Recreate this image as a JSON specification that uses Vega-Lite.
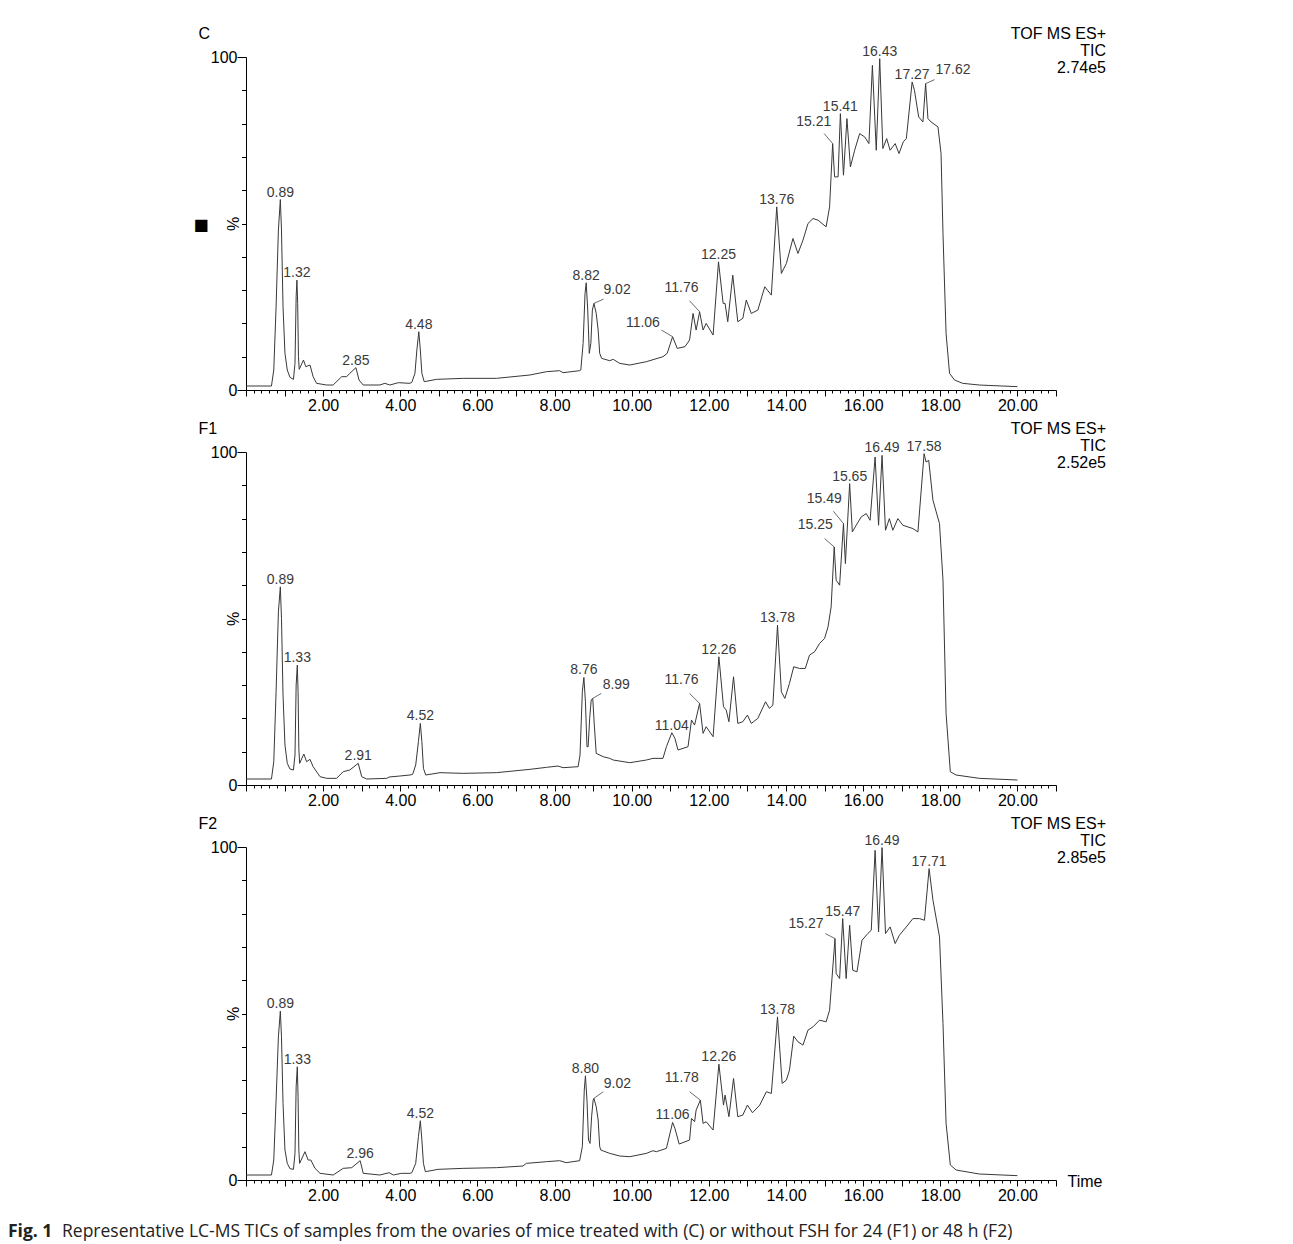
{
  "$schema": "https://vega.github.io/schema/vega-lite/v6.json",
  "padding": {"top": 25, "left": 8, "right": 5, "bottom": 0},
  "bounds": "flush",
  "spacing": 62,
  "title": {
    "text": "Representative LC-MS TICs of samples from the ovaries of mice treated with (C) or without FSH for 24 (F1) or 48 h (F2)",
    "orient": "bottom",
    "anchor": "start",
    "frame": "group",
    "dx": -184,
    "offset": -17.5,
    "font": "Open Sans",
    "fontSize": 17.5,
    "fontWeight": "normal",
    "color": "#222222"
  },
  "datasets": {
    "C": [
      {"t":0,"y":1.2},{"t":0.66,"y":1.2},{"t":0.72,"y":6},{"t":0.78,"y":25},{"t":0.84,"y":48},{"t":0.89,"y":57.2},{"t":0.92,"y":48},{"t":0.96,"y":25},{"t":1.01,"y":11},{"t":1.07,"y":6},{"t":1.14,"y":3.8},{"t":1.23,"y":3.2},{"t":1.27,"y":8},{"t":1.3,"y":28},{"t":1.32,"y":33},{"t":1.34,"y":26},{"t":1.36,"y":10},{"t":1.38,"y":6.2},{"t":1.49,"y":9},{"t":1.55,"y":7},{"t":1.66,"y":7.5},{"t":1.74,"y":4},{"t":1.83,"y":2},{"t":2.09,"y":1.5},{"t":2.26,"y":1.5},{"t":2.48,"y":4},{"t":2.61,"y":4},{"t":2.69,"y":5},{"t":2.85,"y":6.7},{"t":2.93,"y":3},{"t":3.04,"y":1.5},{"t":3.47,"y":1.5},{"t":3.6,"y":2},{"t":3.73,"y":1.5},{"t":3.95,"y":2.2},{"t":4.25,"y":2},{"t":4.3,"y":2.3},{"t":4.38,"y":5},{"t":4.43,"y":12},{"t":4.48,"y":17.5},{"t":4.52,"y":12},{"t":4.56,"y":5},{"t":4.62,"y":2.5},{"t":4.94,"y":3.2},{"t":5.63,"y":3.5},{"t":6.49,"y":3.5},{"t":7.36,"y":4.5},{"t":7.79,"y":5.5},{"t":8.13,"y":5.8},{"t":8.22,"y":5.2},{"t":8.65,"y":5.8},{"t":8.68,"y":6},{"t":8.74,"y":14},{"t":8.79,"y":29},{"t":8.82,"y":32.2},{"t":8.86,"y":24},{"t":8.9,"y":11},{"t":8.94,"y":14},{"t":8.98,"y":24},{"t":9.02,"y":26},{"t":9.08,"y":23},{"t":9.13,"y":18},{"t":9.17,"y":11},{"t":9.22,"y":9.5},{"t":9.43,"y":8.8},{"t":9.52,"y":9.2},{"t":9.69,"y":8},{"t":9.95,"y":7.5},{"t":10.38,"y":8.5},{"t":10.81,"y":10},{"t":10.92,"y":11},{"t":11.06,"y":16},{"t":11.18,"y":12.5},{"t":11.38,"y":13},{"t":11.5,"y":15},{"t":11.59,"y":23},{"t":11.67,"y":18},{"t":11.76,"y":23.5},{"t":11.85,"y":18},{"t":11.93,"y":20},{"t":12.11,"y":16.5},{"t":12.25,"y":38.5},{"t":12.37,"y":26},{"t":12.42,"y":26},{"t":12.49,"y":20.5},{"t":12.62,"y":34.5},{"t":12.75,"y":20.5},{"t":12.88,"y":21.5},{"t":12.97,"y":27},{"t":13.1,"y":23},{"t":13.27,"y":24},{"t":13.45,"y":31},{"t":13.62,"y":28.5},{"t":13.76,"y":55},{"t":13.88,"y":35},{"t":14.01,"y":38},{"t":14.18,"y":45.5},{"t":14.31,"y":41},{"t":14.44,"y":45},{"t":14.57,"y":50},{"t":14.7,"y":51.5},{"t":14.83,"y":51},{"t":15.04,"y":49},{"t":15.13,"y":55},{"t":15.21,"y":74},{"t":15.26,"y":64},{"t":15.35,"y":64},{"t":15.41,"y":83},{"t":15.49,"y":64.5},{"t":15.58,"y":81.5},{"t":15.67,"y":67},{"t":15.78,"y":72},{"t":15.91,"y":77},{"t":16.04,"y":76},{"t":16.15,"y":74},{"t":16.24,"y":97.5},{"t":16.34,"y":72},{"t":16.43,"y":99.5},{"t":16.51,"y":72.5},{"t":16.61,"y":75.5},{"t":16.7,"y":72},{"t":16.83,"y":74},{"t":16.93,"y":71},{"t":17.04,"y":74.5},{"t":17.12,"y":75.5},{"t":17.27,"y":92.5},{"t":17.33,"y":90},{"t":17.44,"y":82},{"t":17.55,"y":80.5},{"t":17.62,"y":92},{"t":17.68,"y":81.5},{"t":17.76,"y":80.5},{"t":17.94,"y":79},{"t":18.02,"y":71},{"t":18.07,"y":47},{"t":18.15,"y":17},{"t":18.24,"y":5},{"t":18.37,"y":3},{"t":18.58,"y":2},{"t":19.01,"y":1.5},{"t":20,"y":1}
    ],
    "F1": [
      {"t":0,"y":1.8},{"t":0.66,"y":1.8},{"t":0.72,"y":7},{"t":0.78,"y":28},{"t":0.84,"y":52},{"t":0.89,"y":59.5},{"t":0.92,"y":50},{"t":0.96,"y":27},{"t":1.01,"y":12},{"t":1.07,"y":6.5},{"t":1.14,"y":4.8},{"t":1.23,"y":4.5},{"t":1.27,"y":9},{"t":1.3,"y":30},{"t":1.33,"y":36},{"t":1.35,"y":28},{"t":1.37,"y":11},{"t":1.39,"y":6.5},{"t":1.5,"y":9.3},{"t":1.57,"y":7},{"t":1.66,"y":7.7},{"t":1.74,"y":5.5},{"t":1.92,"y":2.5},{"t":2.09,"y":2},{"t":2.35,"y":2},{"t":2.52,"y":4},{"t":2.69,"y":4.5},{"t":2.91,"y":6.5},{"t":3.0,"y":2.5},{"t":3.13,"y":1.8},{"t":3.65,"y":2},{"t":3.71,"y":2.4},{"t":3.99,"y":2.7},{"t":4.25,"y":3},{"t":4.32,"y":3.2},{"t":4.4,"y":6},{"t":4.47,"y":13},{"t":4.52,"y":18.5},{"t":4.56,"y":13},{"t":4.6,"y":5},{"t":4.66,"y":3},{"t":5.03,"y":3.7},{"t":5.63,"y":3.5},{"t":6.49,"y":3.7},{"t":7.36,"y":4.7},{"t":7.79,"y":5.3},{"t":8.09,"y":5.7},{"t":8.22,"y":5.2},{"t":8.61,"y":5.5},{"t":8.66,"y":9},{"t":8.72,"y":28},{"t":8.76,"y":32.3},{"t":8.8,"y":25},{"t":8.84,"y":11.5},{"t":8.87,"y":11.5},{"t":8.91,"y":20},{"t":8.95,"y":25.5},{"t":8.99,"y":26},{"t":9.03,"y":18},{"t":9.08,"y":9.5},{"t":9.26,"y":8.5},{"t":9.43,"y":8},{"t":9.52,"y":7.5},{"t":9.95,"y":6.7},{"t":10.38,"y":7.5},{"t":10.55,"y":8},{"t":10.81,"y":8},{"t":10.9,"y":11.5},{"t":11.04,"y":15.7},{"t":11.12,"y":14},{"t":11.2,"y":10.5},{"t":11.46,"y":11.5},{"t":11.55,"y":19.5},{"t":11.63,"y":18},{"t":11.76,"y":24.5},{"t":11.85,"y":15.5},{"t":11.93,"y":17.5},{"t":12.11,"y":14.5},{"t":12.26,"y":38.5},{"t":12.38,"y":23.5},{"t":12.45,"y":22.5},{"t":12.52,"y":19},{"t":12.64,"y":32.5},{"t":12.75,"y":18.5},{"t":12.88,"y":19},{"t":13.0,"y":21},{"t":13.1,"y":18.5},{"t":13.27,"y":20},{"t":13.47,"y":25},{"t":13.57,"y":23},{"t":13.66,"y":24},{"t":13.78,"y":48},{"t":13.88,"y":28},{"t":13.97,"y":26},{"t":14.09,"y":30.5},{"t":14.2,"y":35.5},{"t":14.35,"y":35},{"t":14.5,"y":35},{"t":14.61,"y":39},{"t":14.74,"y":40},{"t":14.87,"y":42.5},{"t":15.0,"y":44},{"t":15.09,"y":47.5},{"t":15.17,"y":53.5},{"t":15.25,"y":71.5},{"t":15.3,"y":61.5},{"t":15.39,"y":60},{"t":15.49,"y":78.5},{"t":15.54,"y":66.5},{"t":15.65,"y":90.5},{"t":15.72,"y":76},{"t":15.82,"y":78},{"t":15.95,"y":80.5},{"t":16.08,"y":81.5},{"t":16.18,"y":79.5},{"t":16.31,"y":98.5},{"t":16.4,"y":78},{"t":16.49,"y":99},{"t":16.58,"y":76.5},{"t":16.68,"y":80},{"t":16.77,"y":76.5},{"t":16.9,"y":80},{"t":17.03,"y":78},{"t":17.29,"y":77},{"t":17.42,"y":76},{"t":17.58,"y":99.5},{"t":17.63,"y":97},{"t":17.7,"y":97.5},{"t":17.81,"y":85.5},{"t":17.98,"y":78.5},{"t":18.07,"y":61.5},{"t":18.15,"y":21.5},{"t":18.26,"y":4},{"t":18.41,"y":3},{"t":19.01,"y":2},{"t":20,"y":1.5}
    ],
    "F2": [
      {"t":0,"y":1.5},{"t":0.66,"y":1.5},{"t":0.72,"y":6},{"t":0.78,"y":24},{"t":0.84,"y":43},{"t":0.89,"y":50.7},{"t":0.92,"y":43},{"t":0.96,"y":23},{"t":1.01,"y":9},{"t":1.07,"y":5},{"t":1.14,"y":3.4},{"t":1.23,"y":3.2},{"t":1.27,"y":8},{"t":1.3,"y":28},{"t":1.33,"y":34},{"t":1.35,"y":25},{"t":1.37,"y":9},{"t":1.39,"y":5},{"t":1.53,"y":8.5},{"t":1.61,"y":6},{"t":1.68,"y":6},{"t":1.79,"y":3.5},{"t":1.92,"y":2},{"t":2.26,"y":1.5},{"t":2.52,"y":3.5},{"t":2.74,"y":3.7},{"t":2.96,"y":5.8},{"t":3.04,"y":2},{"t":3.47,"y":1.5},{"t":3.71,"y":2.2},{"t":3.82,"y":1.5},{"t":4.03,"y":2},{"t":4.25,"y":2},{"t":4.3,"y":2.2},{"t":4.4,"y":5},{"t":4.47,"y":13},{"t":4.52,"y":17.8},{"t":4.56,"y":12},{"t":4.6,"y":5},{"t":4.65,"y":2.5},{"t":4.98,"y":3.2},{"t":5.63,"y":3.5},{"t":6.49,"y":3.7},{"t":7.18,"y":4.2},{"t":7.27,"y":5},{"t":7.79,"y":5.5},{"t":8.13,"y":5.8},{"t":8.3,"y":5.2},{"t":8.65,"y":5.8},{"t":8.72,"y":10},{"t":8.77,"y":27},{"t":8.8,"y":31.3},{"t":8.84,"y":24},{"t":8.88,"y":12},{"t":8.92,"y":11},{"t":8.96,"y":19},{"t":9.0,"y":24},{"t":9.02,"y":24.5},{"t":9.08,"y":22},{"t":9.13,"y":18},{"t":9.17,"y":10},{"t":9.2,"y":9},{"t":9.43,"y":8},{"t":9.69,"y":7.2},{"t":9.95,"y":7},{"t":10.38,"y":8},{"t":10.55,"y":8.8},{"t":10.64,"y":8.5},{"t":10.9,"y":9.5},{"t":11.06,"y":17.3},{"t":11.12,"y":15.5},{"t":11.23,"y":10.8},{"t":11.5,"y":12},{"t":11.55,"y":18.5},{"t":11.63,"y":17.5},{"t":11.67,"y":21},{"t":11.78,"y":24},{"t":11.85,"y":17},{"t":11.93,"y":17.5},{"t":12.11,"y":15},{"t":12.26,"y":34.8},{"t":12.38,"y":22.5},{"t":12.42,"y":25.5},{"t":12.52,"y":19},{"t":12.64,"y":30.5},{"t":12.75,"y":19},{"t":12.88,"y":19.5},{"t":13.0,"y":22.5},{"t":13.13,"y":20.2},{"t":13.32,"y":22.5},{"t":13.49,"y":26.5},{"t":13.62,"y":26},{"t":13.78,"y":49},{"t":13.9,"y":29},{"t":14.01,"y":30},{"t":14.09,"y":33},{"t":14.2,"y":43.2},{"t":14.31,"y":41.5},{"t":14.44,"y":40.5},{"t":14.57,"y":45},{"t":14.7,"y":46},{"t":14.87,"y":48},{"t":15.04,"y":47.5},{"t":15.13,"y":51},{"t":15.27,"y":72.5},{"t":15.3,"y":62},{"t":15.39,"y":60.5},{"t":15.47,"y":78.5},{"t":15.56,"y":60.5},{"t":15.65,"y":76.5},{"t":15.73,"y":63},{"t":15.84,"y":62.5},{"t":15.97,"y":72},{"t":16.12,"y":74},{"t":16.21,"y":75},{"t":16.31,"y":99},{"t":16.4,"y":74.5},{"t":16.49,"y":99.8},{"t":16.58,"y":74},{"t":16.7,"y":76},{"t":16.83,"y":71},{"t":16.94,"y":73.5},{"t":17.12,"y":76},{"t":17.29,"y":78.5},{"t":17.46,"y":78.5},{"t":17.59,"y":78},{"t":17.71,"y":93.5},{"t":17.81,"y":84},{"t":17.98,"y":73},{"t":18.07,"y":47},{"t":18.15,"y":17},{"t":18.26,"y":4.5},{"t":18.41,"y":3},{"t":19.01,"y":1.8},{"t":20,"y":1.3}
    ],
    "labels": [
      {"panel":"C","label":"0.89","lx":0.89,"ly":57.2},
      {"panel":"C","label":"1.32","lx":1.32,"ly":33},
      {"panel":"C","label":"2.85","lx":2.85,"ly":6.7},
      {"panel":"C","label":"4.48","lx":4.48,"ly":17.5},
      {"panel":"C","label":"8.82","lx":8.82,"ly":32.2},
      {"panel":"C","label":"9.02","lx":9.62,"ly":27.9},
      {"panel":"C","label":"11.06","lx":10.29,"ly":18},
      {"panel":"C","label":"11.76","lx":11.29,"ly":28.4},
      {"panel":"C","label":"12.25","lx":12.25,"ly":38.5},
      {"panel":"C","label":"13.76","lx":13.76,"ly":55},
      {"panel":"C","label":"15.21","lx":14.72,"ly":78.4},
      {"panel":"C","label":"15.41","lx":15.41,"ly":83},
      {"panel":"C","label":"16.43","lx":16.43,"ly":99.5},
      {"panel":"C","label":"17.27","lx":17.27,"ly":92.5},
      {"panel":"C","label":"17.62","lx":18.33,"ly":93.9},
      {"panel":"F1","label":"0.89","lx":0.89,"ly":59.5},
      {"panel":"F1","label":"1.33","lx":1.33,"ly":36},
      {"panel":"F1","label":"2.91","lx":2.91,"ly":6.5},
      {"panel":"F1","label":"4.52","lx":4.52,"ly":18.5},
      {"panel":"F1","label":"8.76","lx":8.76,"ly":32.3},
      {"panel":"F1","label":"8.99","lx":9.6,"ly":27.9},
      {"panel":"F1","label":"11.04","lx":11.04,"ly":15.7},
      {"panel":"F1","label":"11.76","lx":11.29,"ly":29.4},
      {"panel":"F1","label":"12.26","lx":12.26,"ly":38.5},
      {"panel":"F1","label":"13.78","lx":13.78,"ly":48},
      {"panel":"F1","label":"15.25","lx":14.76,"ly":75.9},
      {"panel":"F1","label":"15.49","lx":14.99,"ly":83.9},
      {"panel":"F1","label":"15.65","lx":15.65,"ly":90.5},
      {"panel":"F1","label":"16.49","lx":16.49,"ly":99},
      {"panel":"F1","label":"17.58","lx":17.58,"ly":99.5},
      {"panel":"F2","label":"0.89","lx":0.89,"ly":50.7},
      {"panel":"F2","label":"1.33","lx":1.33,"ly":34},
      {"panel":"F2","label":"2.96","lx":2.96,"ly":5.8},
      {"panel":"F2","label":"4.52","lx":4.52,"ly":17.8},
      {"panel":"F2","label":"8.80","lx":8.8,"ly":31.3},
      {"panel":"F2","label":"9.02","lx":9.63,"ly":26.7},
      {"panel":"F2","label":"11.06","lx":11.06,"ly":17.3},
      {"panel":"F2","label":"11.78","lx":11.3,"ly":28.4},
      {"panel":"F2","label":"12.26","lx":12.26,"ly":34.8},
      {"panel":"F2","label":"13.78","lx":13.78,"ly":49},
      {"panel":"F2","label":"15.27","lx":14.52,"ly":74.7},
      {"panel":"F2","label":"15.47","lx":15.47,"ly":78.5},
      {"panel":"F2","label":"16.49","lx":16.49,"ly":99.8},
      {"panel":"F2","label":"17.71","lx":17.71,"ly":93.5}
    ],
    "leaders": [
      {"panel":"C","pt":9.02,"py":26,"ex":9.27,"ey":27.3},
      {"panel":"C","pt":11.06,"py":16,"ex":10.77,"ey":18},
      {"panel":"C","pt":11.76,"py":23.5,"ex":11.5,"ey":26.8},
      {"panel":"C","pt":15.21,"py":74,"ex":14.99,"ey":77},
      {"panel":"C","pt":17.62,"py":92,"ex":17.85,"ey":93.2},
      {"panel":"F1","pt":8.99,"py":26,"ex":9.21,"ey":27.5},
      {"panel":"F1","pt":11.76,"py":24.5,"ex":11.5,"ey":27.5},
      {"panel":"F1","pt":15.25,"py":71.5,"ex":15.0,"ey":74},
      {"panel":"F1","pt":15.49,"py":78.5,"ex":15.23,"ey":82.2},
      {"panel":"F2","pt":9.02,"py":24.5,"ex":9.26,"ey":26.5},
      {"panel":"F2","pt":11.78,"py":24,"ex":11.5,"ey":26.5},
      {"panel":"F2","pt":15.27,"py":72.5,"ex":15.02,"ey":74}
    ]
  },
  "vconcat": [
    {
      "width": 810, "height": 333,
      "layer": [
        {
          "data": {"name": "C"},
          "mark": {"type": "line", "stroke": "#383838", "strokeWidth": 1},
          "encoding": {
            "x": {"field": "t", "type": "quantitative", "scale": {"domain": [0, 21], "nice": false, "zero": false},
              "axis": {"orient": "bottom", "title": null, "values": [0,0.2,0.4,0.6,0.8,1,1.2,1.4,1.6,1.8,2,2.2,2.4,2.6,2.8,3,3.2,3.4,3.6,3.8,4,4.2,4.4,4.6,4.8,5,5.2,5.4,5.6,5.8,6,6.2,6.4,6.6,6.8,7,7.2,7.4,7.6,7.8,8,8.2,8.4,8.6,8.8,9,9.2,9.4,9.6,9.8,10,10.2,10.4,10.6,10.8,11,11.2,11.4,11.6,11.8,12,12.2,12.4,12.6,12.8,13,13.2,13.4,13.6,13.8,14,14.2,14.4,14.6,14.8,15,15.2,15.4,15.6,15.8,16,16.2,16.4,16.6,16.8,17,17.2,17.4,17.6,17.8,18,18.2,18.4,18.6,18.8,19,19.2,19.4,19.6,19.8,20,20.2,20.4,20.6,20.8,21],
                "tickSize": {"condition": {"test": "abs(datum.value - round(datum.value)) < 0.01", "value": 6}, "value": 3},
                "labelExpr": "datum.value > 1.5 && abs(datum.value / 2 - round(datum.value / 2)) < 0.01 ? format(datum.value, '.2f') : ''",
                "labelPadding": 1, "labelBaseline": "top", "labelAlign": "center"}},
            "y": {"field": "y", "type": "quantitative", "scale": {"domain": [0, 100], "nice": false, "zero": false},
              "axis": {"orient": "left", "values": [0,10,20,30,40,50,60,70,80,90,100],
                "tickSize": {"condition": {"test": "datum.value == 0 || datum.value == 100", "value": 9}, "value": 4.5},
                "labelPadding": 0,
                "labelExpr": "datum.value == 50 ? '%' : (datum.value == 0 || datum.value == 100 ? datum.label : '')",
                "labelAngle": {"expr": "datum.value == 50 ? -90 : 0"},
                "labelAlign": {"condition": {"test": "datum.value == 50", "value": "center"}, "value": "right"},
                "labelBaseline": {"condition": {"test": "datum.value == 50", "value": "bottom"}, "value": "middle"},
                "title": "\u25a0", "titleFont": "DejaVu Sans", "titleFontSize": 16, "titleAngle": 0, "titleX": -38, "titleY": 167, "titleAlign": "right", "titleBaseline": "middle"}}
          }
        },
        {
          "data": {"name": "labels"},
          "transform": [{"filter": "datum.panel == 'C'"}],
          "mark": {"type": "text", "font": "Liberation Sans", "fontSize": 14, "fill": "#3a3a3a", "baseline": "alphabetic", "align": "center", "dy": -3},
          "encoding": {
            "x": {"field": "lx", "type": "quantitative", "scale": {"domain": [0, 21], "nice": false, "zero": false},
              "axis": {"orient": "top", "domain": false, "ticks": false, "labels": false, "title": ["TOF MS ES+", "TIC", "2.74e5"], "titleX": 859.5, "titleY": -19, "titleAlign": "right", "titleBaseline": "alphabetic", "titleAngle": 0, "titleLineHeight": 17}},
            "y": {"field": "ly", "type": "quantitative", "scale": {"domain": [0, 100], "nice": false, "zero": false},
              "axis": {"orient": "left", "domain": false, "ticks": false, "labels": false, "title": "C", "titleX": -48, "titleY": -19, "titleAlign": "left", "titleBaseline": "alphabetic", "titleAngle": 0}},
            "text": {"field": "label", "type": "nominal"}
          }
        },
        {
          "data": {"name": "leaders"},
          "transform": [{"filter": "datum.panel == 'C'"}],
          "mark": {"type": "rule", "stroke": "#444444", "strokeWidth": 0.8},
          "encoding": {
            "x": {"field": "pt", "type": "quantitative", "scale": {"domain": [0, 21], "nice": false, "zero": false}, "axis": null},
            "y": {"field": "py", "type": "quantitative", "scale": {"domain": [0, 100], "nice": false, "zero": false}, "axis": null},
            "x2": {"field": "ex"},
            "y2": {"field": "ey"}
          }
        }
      ],
      "resolve": {"axis": {"x": "independent", "y": "independent"}}
    },
    {
      "width": 810, "height": 333,
      "layer": [
        {
          "data": {"name": "F1"},
          "mark": {"type": "line", "stroke": "#383838", "strokeWidth": 1},
          "encoding": {
            "x": {"field": "t", "type": "quantitative", "scale": {"domain": [0, 21], "nice": false, "zero": false},
              "axis": {"orient": "bottom", "title": null, "values": [0,0.2,0.4,0.6,0.8,1,1.2,1.4,1.6,1.8,2,2.2,2.4,2.6,2.8,3,3.2,3.4,3.6,3.8,4,4.2,4.4,4.6,4.8,5,5.2,5.4,5.6,5.8,6,6.2,6.4,6.6,6.8,7,7.2,7.4,7.6,7.8,8,8.2,8.4,8.6,8.8,9,9.2,9.4,9.6,9.8,10,10.2,10.4,10.6,10.8,11,11.2,11.4,11.6,11.8,12,12.2,12.4,12.6,12.8,13,13.2,13.4,13.6,13.8,14,14.2,14.4,14.6,14.8,15,15.2,15.4,15.6,15.8,16,16.2,16.4,16.6,16.8,17,17.2,17.4,17.6,17.8,18,18.2,18.4,18.6,18.8,19,19.2,19.4,19.6,19.8,20,20.2,20.4,20.6,20.8,21],
                "tickSize": {"condition": {"test": "abs(datum.value - round(datum.value)) < 0.01", "value": 6}, "value": 3},
                "labelExpr": "datum.value > 1.5 && abs(datum.value / 2 - round(datum.value / 2)) < 0.01 ? format(datum.value, '.2f') : ''",
                "labelPadding": 1, "labelBaseline": "top", "labelAlign": "center"}},
            "y": {"field": "y", "type": "quantitative", "scale": {"domain": [0, 100], "nice": false, "zero": false},
              "axis": {"orient": "left", "values": [0,10,20,30,40,50,60,70,80,90,100],
                "tickSize": {"condition": {"test": "datum.value == 0 || datum.value == 100", "value": 9}, "value": 4.5},
                "labelPadding": 0,
                "labelExpr": "datum.value == 50 ? '%' : (datum.value == 0 || datum.value == 100 ? datum.label : '')",
                "labelAngle": {"expr": "datum.value == 50 ? -90 : 0"},
                "labelAlign": {"condition": {"test": "datum.value == 50", "value": "center"}, "value": "right"},
                "labelBaseline": {"condition": {"test": "datum.value == 50", "value": "bottom"}, "value": "middle"},
                "title": null}}
          }
        },
        {
          "data": {"name": "labels"},
          "transform": [{"filter": "datum.panel == 'F1'"}],
          "mark": {"type": "text", "font": "Liberation Sans", "fontSize": 14, "fill": "#3a3a3a", "baseline": "alphabetic", "align": "center", "dy": -3},
          "encoding": {
            "x": {"field": "lx", "type": "quantitative", "scale": {"domain": [0, 21], "nice": false, "zero": false},
              "axis": {"orient": "top", "domain": false, "ticks": false, "labels": false, "title": ["TOF MS ES+", "TIC", "2.52e5"], "titleX": 859.5, "titleY": -19, "titleAlign": "right", "titleBaseline": "alphabetic", "titleAngle": 0, "titleLineHeight": 17}},
            "y": {"field": "ly", "type": "quantitative", "scale": {"domain": [0, 100], "nice": false, "zero": false},
              "axis": {"orient": "left", "domain": false, "ticks": false, "labels": false, "title": "F1", "titleX": -48, "titleY": -19, "titleAlign": "left", "titleBaseline": "alphabetic", "titleAngle": 0}},
            "text": {"field": "label", "type": "nominal"}
          }
        },
        {
          "data": {"name": "leaders"},
          "transform": [{"filter": "datum.panel == 'F1'"}],
          "mark": {"type": "rule", "stroke": "#444444", "strokeWidth": 0.8},
          "encoding": {
            "x": {"field": "pt", "type": "quantitative", "scale": {"domain": [0, 21], "nice": false, "zero": false}, "axis": null},
            "y": {"field": "py", "type": "quantitative", "scale": {"domain": [0, 100], "nice": false, "zero": false}, "axis": null},
            "x2": {"field": "ex"},
            "y2": {"field": "ey"}
          }
        }
      ],
      "resolve": {"axis": {"x": "independent", "y": "independent"}}
    },
    {
      "width": 810, "height": 333,
      "title": {
        "text": "Fig. 1",
        "orient": "bottom",
        "anchor": "start",
        "frame": "group",
        "dx": -238,
        "offset": 20,
        "font": "Open Sans",
        "fontSize": 17.5,
        "fontWeight": "bold",
        "color": "#222222"
      },
      "layer": [
        {
          "data": {"name": "F2"},
          "mark": {"type": "line", "stroke": "#383838", "strokeWidth": 1},
          "encoding": {
            "x": {"field": "t", "type": "quantitative", "scale": {"domain": [0, 21], "nice": false, "zero": false},
              "axis": {"orient": "bottom", "values": [0,0.2,0.4,0.6,0.8,1,1.2,1.4,1.6,1.8,2,2.2,2.4,2.6,2.8,3,3.2,3.4,3.6,3.8,4,4.2,4.4,4.6,4.8,5,5.2,5.4,5.6,5.8,6,6.2,6.4,6.6,6.8,7,7.2,7.4,7.6,7.8,8,8.2,8.4,8.6,8.8,9,9.2,9.4,9.6,9.8,10,10.2,10.4,10.6,10.8,11,11.2,11.4,11.6,11.8,12,12.2,12.4,12.6,12.8,13,13.2,13.4,13.6,13.8,14,14.2,14.4,14.6,14.8,15,15.2,15.4,15.6,15.8,16,16.2,16.4,16.6,16.8,17,17.2,17.4,17.6,17.8,18,18.2,18.4,18.6,18.8,19,19.2,19.4,19.6,19.8,20,20.2,20.4,20.6,20.8,21],
                "tickSize": {"condition": {"test": "abs(datum.value - round(datum.value)) < 0.01", "value": 6}, "value": 3},
                "labelExpr": "datum.value > 1.5 && abs(datum.value / 2 - round(datum.value / 2)) < 0.01 ? format(datum.value, '.2f') : ''",
                "labelPadding": 1, "labelBaseline": "top", "labelAlign": "center",
                "title": "Time", "titleX": 821, "titleY": 1, "titleAlign": "left", "titleBaseline": "middle", "titleAngle": 0}},
            "y": {"field": "y", "type": "quantitative", "scale": {"domain": [0, 100], "nice": false, "zero": false},
              "axis": {"orient": "left", "values": [0,10,20,30,40,50,60,70,80,90,100],
                "tickSize": {"condition": {"test": "datum.value == 0 || datum.value == 100", "value": 9}, "value": 4.5},
                "labelPadding": 0,
                "labelExpr": "datum.value == 50 ? '%' : (datum.value == 0 || datum.value == 100 ? datum.label : '')",
                "labelAngle": {"expr": "datum.value == 50 ? -90 : 0"},
                "labelAlign": {"condition": {"test": "datum.value == 50", "value": "center"}, "value": "right"},
                "labelBaseline": {"condition": {"test": "datum.value == 50", "value": "bottom"}, "value": "middle"},
                "title": null}}
          }
        },
        {
          "data": {"name": "labels"},
          "transform": [{"filter": "datum.panel == 'F2'"}],
          "mark": {"type": "text", "font": "Liberation Sans", "fontSize": 14, "fill": "#3a3a3a", "baseline": "alphabetic", "align": "center", "dy": -3},
          "encoding": {
            "x": {"field": "lx", "type": "quantitative", "scale": {"domain": [0, 21], "nice": false, "zero": false},
              "axis": {"orient": "top", "domain": false, "ticks": false, "labels": false, "title": ["TOF MS ES+", "TIC", "2.85e5"], "titleX": 859.5, "titleY": -19, "titleAlign": "right", "titleBaseline": "alphabetic", "titleAngle": 0, "titleLineHeight": 17}},
            "y": {"field": "ly", "type": "quantitative", "scale": {"domain": [0, 100], "nice": false, "zero": false},
              "axis": {"orient": "left", "domain": false, "ticks": false, "labels": false, "title": "F2", "titleX": -48, "titleY": -19, "titleAlign": "left", "titleBaseline": "alphabetic", "titleAngle": 0}},
            "text": {"field": "label", "type": "nominal"}
          }
        },
        {
          "data": {"name": "leaders"},
          "transform": [{"filter": "datum.panel == 'F2'"}],
          "mark": {"type": "rule", "stroke": "#444444", "strokeWidth": 0.8},
          "encoding": {
            "x": {"field": "pt", "type": "quantitative", "scale": {"domain": [0, 21], "nice": false, "zero": false}, "axis": null},
            "y": {"field": "py", "type": "quantitative", "scale": {"domain": [0, 100], "nice": false, "zero": false}, "axis": null},
            "x2": {"field": "ex"},
            "y2": {"field": "ey"}
          }
        }
      ],
      "resolve": {"axis": {"x": "independent", "y": "independent"}}
    }
  ],
  "config": {
    "view": {"stroke": null},
    "font": "Liberation Sans",
    "axis": {
      "grid": false,
      "domainColor": "#000000",
      "domainWidth": 1,
      "tickColor": "#000000",
      "tickWidth": 1,
      "labelColor": "#000000",
      "titleColor": "#000000",
      "labelFont": "Liberation Sans",
      "titleFont": "Liberation Sans",
      "labelFontSize": 16,
      "titleFontSize": 16,
      "titleFontWeight": "normal",
      "labelOverlap": false,
      "labelBound": false,
      "labelFlush": false
    }
  }
}
